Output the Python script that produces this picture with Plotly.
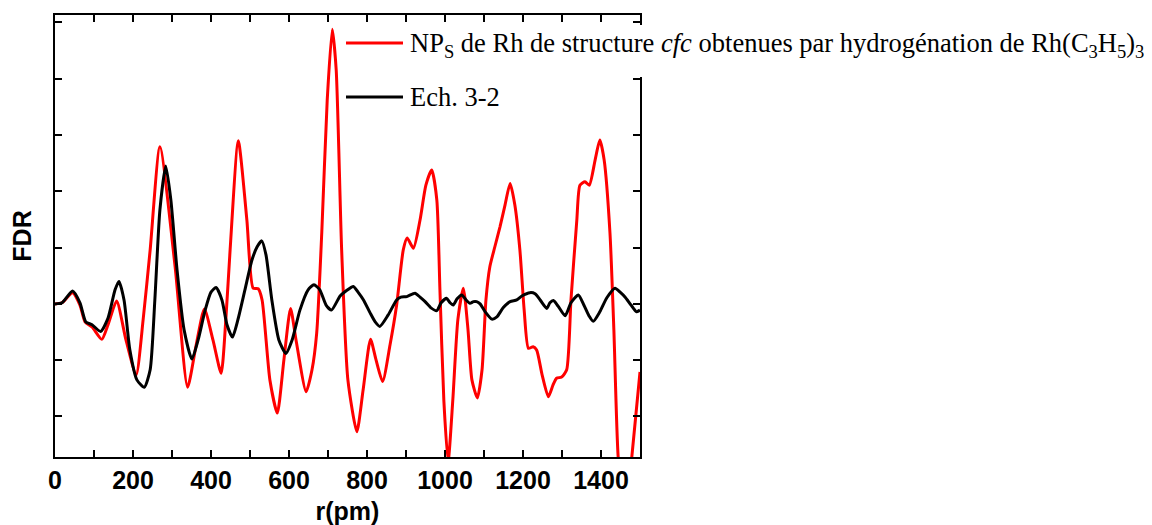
import plotly.graph_objects as go

# ---- data ----
r_red = [0, 18, 45, 64, 77, 95, 120, 136, 158, 182, 208, 226, 244, 269, 308, 340, 362, 383,
         405, 426, 438, 449, 470, 492, 508, 521, 531, 551, 570, 587, 604, 618, 644, 659, 671,
         684, 698, 711, 721, 735, 751, 774, 790, 809, 823, 840, 859, 876, 893, 903, 919, 936,
         951, 966, 979, 987, 997, 1008, 1020, 1033, 1047, 1059, 1069, 1083, 1095, 1105, 1115,
         1128, 1141, 1154, 1167, 1179, 1192, 1203, 1214, 1226, 1235, 1249, 1265, 1277, 1286,
         1299, 1312, 1323, 1338, 1346, 1359, 1370, 1385, 1397, 1408, 1423, 1433, 1444, 1462,
         1479, 1500]
fdr_red = [0, 0.02, 0.20, -0.02, -0.32, -0.41, -0.63, -0.37, 0.05, -0.64, -1.26, -0.28, 0.96,
           2.79, 0.66, -1.48, -0.73, -0.09, -0.64, -1.23, -0.28, 0.96, 2.90, 1.49, 0.28, 0.27,
           0.07, -1.35, -1.94, -0.99, -0.08, -0.64, -1.56, -1.17, -0.52, 1.26, 3.62, 4.88,
           4.16, 0.96, -1.35, -2.27, -1.53, -0.63, -0.99, -1.38, -0.73, -0.02, 0.96, 1.17,
           0.99, 1.49, 2.11, 2.38, 1.85, 0.25, -1.71, -2.80, -1.71, -0.28, 0.28, -0.46, -1.35,
           -1.67, -1.17, 0.07, 0.66, 1.02, 1.37, 1.76, 2.14, 1.76, 0.96, -0.11, -0.79, -0.76,
           -0.82, -1.26, -1.65, -1.44, -1.32, -1.30, -1.17, 0.07, 1.49, 2.11, 2.17, 2.11,
           2.56, 2.91, 2.56, 1.26, -0.46, -2.72, -3.90, -2.72, -1.21]

r_black = [0, 18, 45, 64, 79, 95, 117, 136, 154, 164, 177, 192, 210, 229, 244, 256, 269, 284,
           297, 313, 331, 351, 367, 385, 400, 413, 428, 441, 455, 469, 487, 505, 518, 530,
           541, 556, 574, 592, 608, 628, 649, 664, 679, 695, 709, 731, 746, 765, 777, 791,
           808, 821, 833, 854, 876, 887, 902, 923, 936, 949, 964, 979, 990, 1004, 1013, 1021,
           1031, 1043, 1054, 1064, 1073, 1081, 1090, 1103, 1120, 1133, 1149, 1167, 1184, 1197,
           1218, 1231, 1244, 1261, 1269, 1278, 1290, 1308, 1323, 1342, 1356, 1369, 1380, 1397,
           1415, 1436, 1449, 1462, 1477, 1491, 1500]
fdr_black = [0, 0.02, 0.23, 0.02, -0.32, -0.37, -0.49, -0.25, 0.25, 0.40, 0.07, -0.82, -1.35,
             -1.48, -1.17, 0.07, 1.67, 2.45, 1.85, 0.60, -0.46, -0.98, -0.64, -0.11, 0.21,
             0.29, 0.07, -0.37, -0.59, -0.28, 0.25, 0.78, 1.01, 1.12, 0.87, 0.07, -0.64, -0.88,
             -0.64, -0.11, 0.25, 0.34, 0.25, -0.02, -0.11, 0.14, 0.23, 0.31, 0.21, 0.07, -0.16,
             -0.32, -0.40, -0.20, 0.07, 0.12, 0.13, 0.19, 0.12, 0.04, -0.07, -0.12, 0.02, 0.10,
             0.02, -0.02, 0.09, 0.16, 0.07, 0.01, 0.04, 0.04, 0.0, -0.14, -0.27, -0.23, -0.07,
             0.04, 0.07, 0.14, 0.20, 0.18, 0.07, -0.08, 0.02, 0.06, -0.04, -0.21, 0.02, 0.16,
             -0.02, -0.21, -0.31, -0.14, 0.11, 0.28, 0.21, 0.12, -0.02, -0.14, -0.11]

name_red = ("NP<sub>S</sub> de Rh de structure <i>cfc</i> obtenues par hydrogénation de "
            "Rh(C<sub>3</sub>H<sub>5</sub>)<sub>3</sub>")
name_black = "Ech. 3-2"
x_title = "r(pm)"
y_title = "FDR"

RED = "#ff0000"
BLACK = "#000000"

fig = go.Figure()
fig.add_trace(go.Scatter(x=r_red, y=fdr_red, mode="lines", name=name_red,
                         line=dict(color=RED, width=3, shape="spline", smoothing=0.6),
                         showlegend=False))
fig.add_trace(go.Scatter(x=r_black, y=fdr_black, mode="lines", name=name_black,
                         line=dict(color=BLACK, width=3, shape="spline", smoothing=0.6),
                         showlegend=False))

# page has an 8px body margin, so the figure is placed at (8, 8)
OFF = 8
W, H = 1144, 517
L, R, T, B = 47, 512, 7, 68
pw, ph = W - L - R, H - T - B


def px(x):
    # page pixel x -> paper fraction
    return (x - OFF - L) / pw


def py(y):
    # page pixel y -> paper fraction
    return (H - B - (y - OFF)) / ph


# white legend box covering the right axis line (as in the reference)
fig.add_shape(type="rect", xref="paper", yref="paper", x0=px(342), x1=px(1150),
              y0=py(77), y1=py(25), fillcolor="white", line=dict(width=0), layer="above")

legend_items = [(name_red, RED, 43, 45), (name_black, BLACK, 97, 97)]
for label, col, yy, ty in legend_items:
    fig.add_shape(type="line", xref="paper", yref="paper", x0=px(346), x1=px(403),
                  y0=py(yy), y1=py(yy), line=dict(color=col, width=3), layer="above")
    fig.add_annotation(xref="paper", yref="paper", x=px(408), y=py(ty), text=label,
                       showarrow=False, xanchor="left", yanchor="middle",
                       font=dict(family="Liberation Serif, Times New Roman, serif", size=26.5,
                                 color="black"))

axis_font = dict(family="Liberation Sans, Arial, sans-serif", size=25, color="black",
                 weight="bold")

fig.update_xaxes(range=[0, 1500], tickmode="linear", tick0=0, dtick=200,
                 ticks="inside", ticklen=7, tickwidth=2, tickcolor="black",
                 minor=dict(dtick=100, ticks="inside", ticklen=7, tickwidth=2,
                            tickcolor="black"),
                 showline=True, linewidth=2, linecolor="black", mirror="ticks",
                 showgrid=False, zeroline=False, tickfont=axis_font, automargin=False,
                 title=dict(text=x_title, font=axis_font, standoff=10))
fig.update_yaxes(range=[-2.72, 5.133], tickmode="linear", tick0=0, dtick=1,
                 ticks="inside", ticklen=7, tickwidth=2, tickcolor="black",
                 showticklabels=False, automargin=False,
                 showline=True, linewidth=2, linecolor="black", mirror="ticks",
                 showgrid=False, zeroline=False,
                 title=dict(text=y_title, font=axis_font, standoff=17))

fig.update_layout(width=W, height=H, margin=dict(l=L, r=R, t=T, b=B),
                  plot_bgcolor="white", paper_bgcolor="white", showlegend=False)

fig.write_html("out.html")
